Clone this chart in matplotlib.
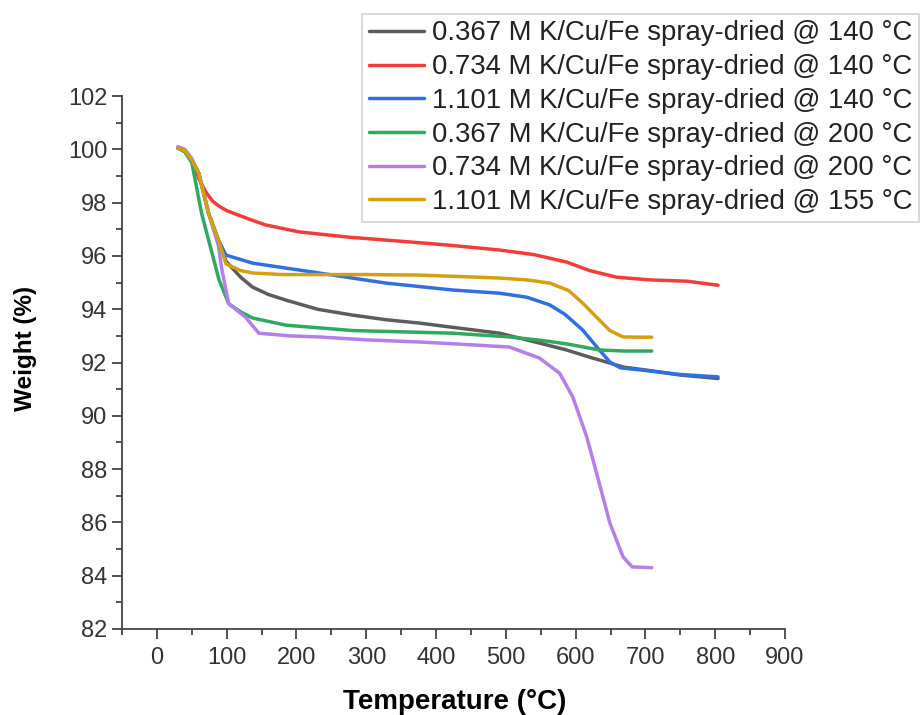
import matplotlib
matplotlib.use('Agg')
import matplotlib.pyplot as plt
from matplotlib.ticker import MultipleLocator

plt.rcParams['font.family'] = ['Liberation Sans', 'DejaVu Sans']

# TGA curves: temperature (°C) and remaining weight (%)
labels = [
    '0.367 M K/Cu/Fe spray-dried @ 140 °C',
    '0.734 M K/Cu/Fe spray-dried @ 140 °C',
    '1.101 M K/Cu/Fe spray-dried @ 140 °C',
    '0.367 M K/Cu/Fe spray-dried @ 200 °C',
    '0.734 M K/Cu/Fe spray-dried @ 200 °C',
    '1.101 M K/Cu/Fe spray-dried @ 155 °C',
]

t_gray = [30, 40, 50, 60, 74, 88, 99, 120, 137, 160, 185, 230, 280, 330, 376, 430,
          491, 548, 587, 620, 649, 668, 700, 750, 804]
w_gray = [100.05, 99.95, 99.6, 99.1, 97.6, 96.6, 95.8, 95.2, 94.83, 94.55, 94.34, 94.0,
          93.78, 93.6, 93.48, 93.3, 93.1, 92.73, 92.47, 92.2, 91.98, 91.83, 91.72, 91.53, 91.4]

t_red = [30, 40, 50, 60, 70, 80, 90, 100, 110, 130, 156, 204, 276, 350, 420, 491,
         540, 587, 620, 659, 706, 760, 804]
w_red = [100.05, 99.95, 99.6, 98.9, 98.4, 98.05, 97.85, 97.7, 97.6, 97.4, 97.16, 96.9,
         96.7, 96.55, 96.4, 96.22, 96.05, 95.77, 95.45, 95.2, 95.1, 95.05, 94.9]

t_blue = [30, 40, 50, 60, 74, 88, 99, 137, 232, 328, 424, 491, 530, 563, 585, 610,
          634, 649, 664, 700, 750, 804]
w_blue = [100.05, 99.95, 99.6, 99.1, 97.6, 96.6, 96.03, 95.73, 95.36, 94.98, 94.72,
          94.6, 94.45, 94.16, 93.8, 93.22, 92.47, 92.02, 91.8, 91.7, 91.55, 91.46]

t_green = [30, 40, 50, 64, 79, 89, 103, 120, 137, 185, 280, 424, 505, 548, 587, 634,
           670, 709]
w_green = [100.05, 99.9, 99.5, 97.6, 96.1, 95.1, 94.2, 93.9, 93.67, 93.4, 93.2, 93.1,
           92.96, 92.84, 92.7, 92.47, 92.43, 92.43]

t_purple = [30, 40, 50, 60, 74, 88, 93, 103, 127, 146, 190, 232, 300, 376, 440, 505,
            548, 577, 596, 616, 630, 649, 668, 681, 709]
w_purple = [100.1, 100.0, 99.65, 99.1, 97.6, 96.4, 95.5, 94.2, 93.7, 93.1, 93.0, 92.96,
            92.85, 92.77, 92.68, 92.58, 92.17, 91.6, 90.7, 89.2, 87.85, 85.98, 84.7,
            84.33, 84.3]

t_yellow = [30, 40, 50, 60, 74, 88, 99, 120, 137, 180, 232, 300, 376, 440, 491, 530,
            563, 590, 610, 630, 649, 668, 690, 709]
w_yellow = [100.05, 99.95, 99.6, 99.1, 97.6, 96.6, 95.7, 95.45, 95.36, 95.3, 95.3, 95.3,
            95.28, 95.22, 95.17, 95.1, 94.98, 94.7, 94.23, 93.7, 93.2, 92.96, 92.95, 92.95]

series = [(t_gray, w_gray, '#5c5c5c'),
          (t_red, w_red, '#f23c3c'),
          (t_blue, w_blue, '#2f6fe2'),
          (t_green, w_green, '#2fa860'),
          (t_purple, w_purple, '#b57ee8'),
          (t_yellow, w_yellow, '#d4a010')]

fig = plt.figure(figsize=(9.23, 7.15), dpi=100)
ax = fig.add_axes([0.1322, 0.1203, 0.7183, 0.7454])

for (t, w, c), lab in zip(series, labels):
    ax.plot(t, w, color=c, lw=2.5, label=lab, solid_capstyle='round',
            solid_joinstyle='round')

ax.set_xlim(-50, 900)
ax.set_ylim(82, 102)
ax.xaxis.set_major_locator(MultipleLocator(100))
ax.xaxis.set_minor_locator(MultipleLocator(50))
ax.yaxis.set_major_locator(MultipleLocator(2))
ax.yaxis.set_minor_locator(MultipleLocator(1))

for side in ['top', 'right']:
    ax.spines[side].set_visible(False)
for side in ['left', 'bottom']:
    ax.spines[side].set_color('#444444')
    ax.spines[side].set_linewidth(1.3)

ax.tick_params(which='major', length=7, width=1.3, color='#444444',
               labelsize=17, labelcolor='#333333', direction='out')
ax.tick_params(axis='x', which='major', pad=6)
ax.tick_params(which='minor', length=4, width=1.3, color='#444444', direction='out')

ax.set_xlabel('Temperature (°C)', fontsize=20, fontweight='bold')
ax.set_ylabel('Weight (%)', fontsize=17.5, fontweight='bold')
ax.xaxis.set_label_coords(0.502, -0.112)
ax.yaxis.set_label_coords(-0.146, 0.527)
ax.yaxis.label.set_va('center')

leg = fig.legend(loc='upper right', bbox_to_anchor=(0.996, 0.981), fontsize=19.8,
                 frameon=True, fancybox=False, handlelength=2.0, handletextpad=0.3,
                 labelspacing=0.28, borderpad=0.25, borderaxespad=0)
leg.get_frame().set_edgecolor('#c8c8c8')
leg.get_frame().set_linewidth(1.2)
for txt in leg.get_texts():
    txt.set_color('#222222')

fig.savefig('out.png', dpi=100)
